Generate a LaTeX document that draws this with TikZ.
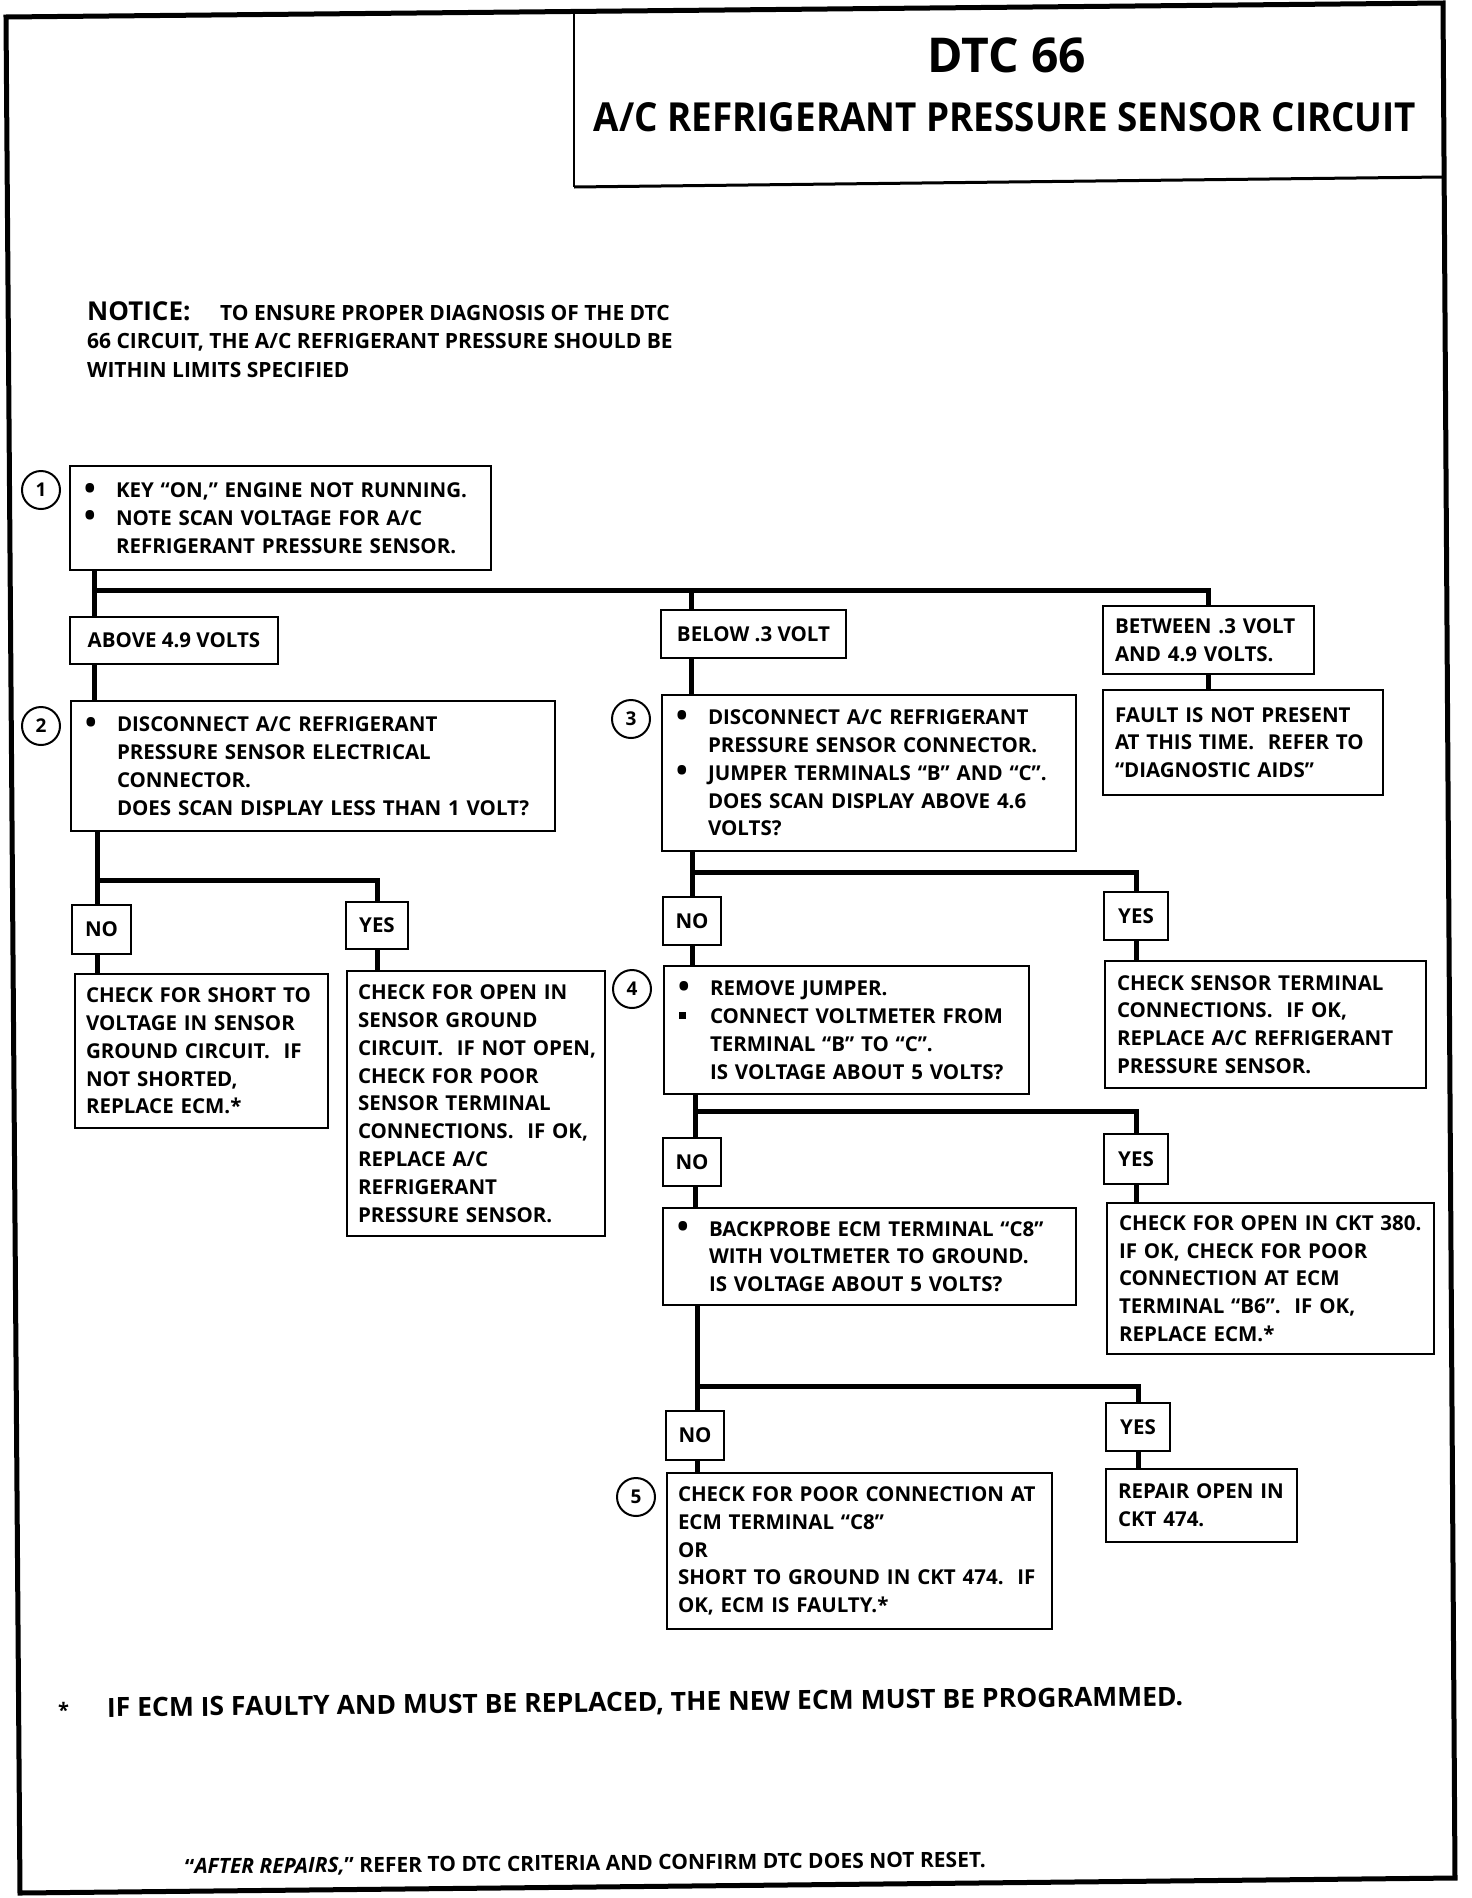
\documentclass[tikz,border=0pt]{standalone}
\usepackage{fontspec}
\setmainfont{Open Sans}
\newfontfamily\titlefont{Open Sans}[FakeStretch=0.92]
\usetikzlibrary{calc}
\newlength\fcbulw
\setlength\fcbulw{32pt}
\newcommand\fcbul{\makebox[\fcbulw][l]{\raisebox{-1.5pt}{\scalebox{1.5}{\textbullet}}}}
\newcommand\fcsq{\makebox[\fcbulw][l]{\hspace{1pt}\raisebox{4.5pt}{\rule{6.5pt}{6.5pt}}}}
\newcommand\fcind{\hspace*{\fcbulw}}
\newcommand\fcl[1]{\mbox{#1}}
\begin{document}
\begin{tikzpicture}[x=1pt,y=-1pt,
  bodyfont/.style={font=\bfseries\fontsize{20.5}{27.8}\selectfont},
  tbox/.style={draw, line width=2pt, align=left, anchor=north west, inner xsep=12pt, inner ysep=0pt, bodyfont},
  bbox/.style={tbox, inner xsep=14pt},
  lbl/.style={draw, line width=2pt, align=center, anchor=north west, inner sep=0pt, bodyfont},
  num/.style={circle, draw, line width=2pt, minimum size=38pt, inner sep=0pt, font=\bfseries\fontsize{19}{19}\selectfont},
  conn/.style={line width=5pt, line join=miter},
  plain/.style={inner sep=0pt, anchor=base west}]
\useasboundingbox (0,0) rectangle (1472,1898);
% frame and title box
\draw[line width=5pt, line join=miter] (6,17) -- (1443,3) -- (1455,1878) -- (20,1893) -- cycle;
\draw[line width=2pt] (574,11) -- (574,187);
\draw[line width=3pt] (574,187) -- (1443,177);
\node[inner sep=0pt, font=\bfseries\fontsize{48}{48}\selectfont] (ttl1) at (1007,55) {DTC 66};
\node[inner sep=0pt, font=\bfseries\titlefont\fontsize{40}{40}\selectfont] (ttl2) at (1005,117) {A/C REFRIGERANT PRESSURE SENSOR CIRCUIT};
% notice
\node[plain, font=\bfseries\fontsize{26}{28}\selectfont] (not0) at (87,320) {NOTICE:};
\node[plain, font=\bfseries\fontsize{21}{28}\selectfont] (not1) at (220,320) {TO ENSURE PROPER DIAGNOSIS OF THE DTC};
\node[plain, font=\bfseries\fontsize{21}{28}\selectfont] (not2) at (87,348) {66 CIRCUIT, THE A/C REFRIGERANT PRESSURE SHOULD BE};
\node[plain, font=\bfseries\fontsize{21}{28}\selectfont] (not3) at (87,377) {WITHIN LIMITS SPECIFIED};
% step 1
\node[bbox, minimum width=421pt, text width=393pt, minimum height=104pt] (b1) at (69,465)
 {\fcl{\fcbul KEY “ON,” ENGINE NOT RUNNING.}\\\fcl{\fcbul NOTE SCAN VOLTAGE FOR A/C}\\\fcl{\fcind REFRIGERANT PRESSURE SENSOR.}};
\node[num] (c1) at (41,490) {1};
\node[lbl, minimum width=208pt, minimum height=47pt] (above) at (69,616) {ABOVE 4.9 VOLTS};
\node[lbl, minimum width=185pt, minimum height=48pt] (below) at (660,609) {BELOW .3 VOLT};
\node[tbox, minimum width=211pt, text width=187pt, minimum height=68pt] (btw) at (1102,605)
 {\fcl{BETWEEN .3 VOLT}\\\fcl{AND 4.9 VOLTS.}};
\node[tbox, minimum width=280pt, text width=256pt, minimum height=105pt] (fault) at (1102,689)
 {\fcl{FAULT IS NOT PRESENT}\\\fcl{AT THIS TIME.\ \ REFER TO}\\\fcl{“DIAGNOSTIC AIDS”}};
% step 2
\node[bbox, minimum width=484pt, text width=456pt, minimum height=130pt] (b2) at (70,700)
 {\fcl{\fcbul DISCONNECT A/C REFRIGERANT}\\\fcl{\fcind PRESSURE SENSOR ELECTRICAL}\\\fcl{\fcind CONNECTOR.}\\\fcl{\fcind DOES SCAN DISPLAY LESS THAN 1 VOLT?}};
\node[num] (c2) at (41,726) {2};
\node[lbl, minimum width=59pt, minimum height=49pt] (no2) at (71,904) {NO};
\node[lbl, minimum width=62pt, minimum height=47pt] (yes2) at (345,901) {YES};
\node[tbox, inner xsep=11pt, minimum width=253pt, text width=231pt, minimum height=154pt] (r2n) at (74,973)
 {\fcl{CHECK FOR SHORT TO}\\\fcl{VOLTAGE IN SENSOR}\\\fcl{GROUND CIRCUIT.\ \ IF}\\\fcl{NOT SHORTED,}\\\fcl{REPLACE ECM.*}};
\node[tbox, inner xsep=11pt, minimum width=258pt, text width=236pt, minimum height=265pt] (r2y) at (346,970)
 {\fcl{CHECK FOR OPEN IN}\\\fcl{SENSOR GROUND}\\\fcl{CIRCUIT.\ \ IF NOT OPEN,}\\\fcl{CHECK FOR POOR}\\\fcl{SENSOR TERMINAL}\\\fcl{CONNECTIONS.\ \ IF OK,}\\\fcl{REPLACE A/C}\\\fcl{REFRIGERANT}\\\fcl{PRESSURE SENSOR.}};
% step 3
\node[bbox, minimum width=414pt, text width=386pt, minimum height=156pt] (b3) at (661,694)
 {\fcl{\fcbul DISCONNECT A/C REFRIGERANT}\\\fcl{\fcind PRESSURE SENSOR CONNECTOR.}\\\fcl{\fcbul JUMPER TERMINALS “B” AND “C”.}\\\fcl{\fcind DOES SCAN DISPLAY ABOVE 4.6}\\\fcl{\fcind VOLTS?}};
\node[num] (c3) at (631,719) {3};
\node[lbl, minimum width=58pt, minimum height=48pt] (no3) at (662,896) {NO};
\node[lbl, minimum width=64pt, minimum height=48pt] (yes3) at (1103,891) {YES};
\node[tbox, minimum width=321pt, text width=297pt, minimum height=127pt] (r3y) at (1104,960)
 {\fcl{CHECK SENSOR TERMINAL}\\\fcl{CONNECTIONS.\ \ IF OK,}\\\fcl{REPLACE A/C REFRIGERANT}\\\fcl{PRESSURE SENSOR.}};
% step 4
\node[bbox, minimum width=365pt, text width=337pt, minimum height=128pt] (b4) at (663,965)
 {\fcl{\fcbul REMOVE JUMPER.}\\\fcl{\fcsq CONNECT VOLTMETER FROM}\\\fcl{\fcind TERMINAL “B” TO “C”.}\\\fcl{\fcind IS VOLTAGE ABOUT 5 VOLTS?}};
\node[num] (c4) at (632,989) {4};
\node[lbl, minimum width=58pt, minimum height=48pt] (no4) at (662,1137) {NO};
\node[lbl, minimum width=64pt, minimum height=50pt] (yes4) at (1103,1133) {YES};
\node[tbox, minimum width=327pt, text width=303pt, minimum height=151pt] (r4y) at (1106,1202)
 {\fcl{CHECK FOR OPEN IN CKT 380.}\\\fcl{IF OK, CHECK FOR POOR}\\\fcl{CONNECTION AT ECM}\\\fcl{TERMINAL “B6”.\ \ IF OK,}\\\fcl{REPLACE ECM.*}};
\node[bbox, minimum width=413pt, text width=385pt, minimum height=97pt] (bp) at (662,1207)
 {\fcl{\fcbul BACKPROBE ECM TERMINAL “C8”}\\\fcl{\fcind WITH VOLTMETER TO GROUND.}\\\fcl{\fcind IS VOLTAGE ABOUT 5 VOLTS?}};
% step 5
\node[lbl, minimum width=58pt, minimum height=49pt] (no5) at (665,1410) {NO};
\node[lbl, minimum width=64pt, minimum height=48pt] (yes5) at (1105,1402) {YES};
\node[tbox, minimum width=191pt, text width=167pt, minimum height=73pt] (r5y) at (1105,1468)
 {\fcl{REPAIR OPEN IN}\\\fcl{CKT 474.}};
\node[tbox, inner xsep=11pt, minimum width=385pt, text width=363pt, minimum height=156pt] (b5) at (666,1472)
 {\fcl{CHECK FOR POOR CONNECTION AT}\\\fcl{ECM TERMINAL “C8”}\\\fcl{OR}\\\fcl{SHORT TO GROUND IN CKT 474.\ \ IF}\\\fcl{OK, ECM IS FAULTY.*}};
\node[num] (c5) at (636,1497) {5};
% connectors
\coordinate (t0) at (94,590);
\coordinate (t1) at (691,590);
\draw[conn] (b1.south -| t0) -- (t0) -| (btw.north);
\draw[conn] (t1) -- (below.north -| t1);
\draw[conn] (t0) -- (above.north -| t0);
\draw[conn] (above.south -| t0) -- (b2.north -| t0);
\draw[conn] (below.south -| t1) -- (b3.north -| t1);
\draw[conn] (btw.south) -- (fault.north -| btw.south);
\coordinate (j2) at (97,880);
\draw[conn] (b2.south -| j2) -- (j2) -| (yes2.north);
\draw[conn] (j2) -- (no2.north -| j2);
\draw[conn] (no2.south -| j2) -- (r2n.north -| j2);
\draw[conn] (yes2.south) -- (r2y.north -| yes2.south);
\coordinate (j3) at (692,872);
\draw[conn] (b3.south -| j3) -- (j3) -| (yes3.north);
\draw[conn] (j3) -- (no3.north -| j3);
\draw[conn] (no3.south -| j3) -- (b4.north -| j3);
\draw[conn] (yes3.south) -- (r3y.north -| yes3.south);
\coordinate (j4) at (695,1111);
\draw[conn] (b4.south -| j4) -- (j4) -| (yes4.north);
\draw[conn] (j4) -- (no4.north -| j4);
\draw[conn] (no4.south -| j4) -- (bp.north -| j4);
\draw[conn] (yes4.south) -- (r4y.north -| yes4.south);
\coordinate (j5) at (697,1386);
\draw[conn] (bp.south -| j5) -- (j5) -| (yes5.north);
\draw[conn] (j5) -- (no5.north -| j5);
\draw[conn] (no5.south -| j5) -- (b5.north -| j5);
\draw[conn] (yes5.south) -- (r5y.north -| yes5.south);
% footnotes
\node[plain, font=\bfseries\fontsize{20}{20}\selectfont] (star) at (58,1717) {*};
\node[plain, rotate=0.6, font=\bfseries\fontsize{26.5}{30}\selectfont] (foot) at (107,1717) {IF ECM IS FAULTY AND MUST BE REPLACED, THE NEW ECM MUST BE PROGRAMMED.};
\node[plain, rotate=0.5, font=\bfseries\fontsize{21}{24}\selectfont] (after) at (185,1874) {“\textit{AFTER REPAIRS,}” REFER TO DTC CRITERIA AND CONFIRM DTC DOES NOT RESET.};
\end{tikzpicture}
\end{document}
